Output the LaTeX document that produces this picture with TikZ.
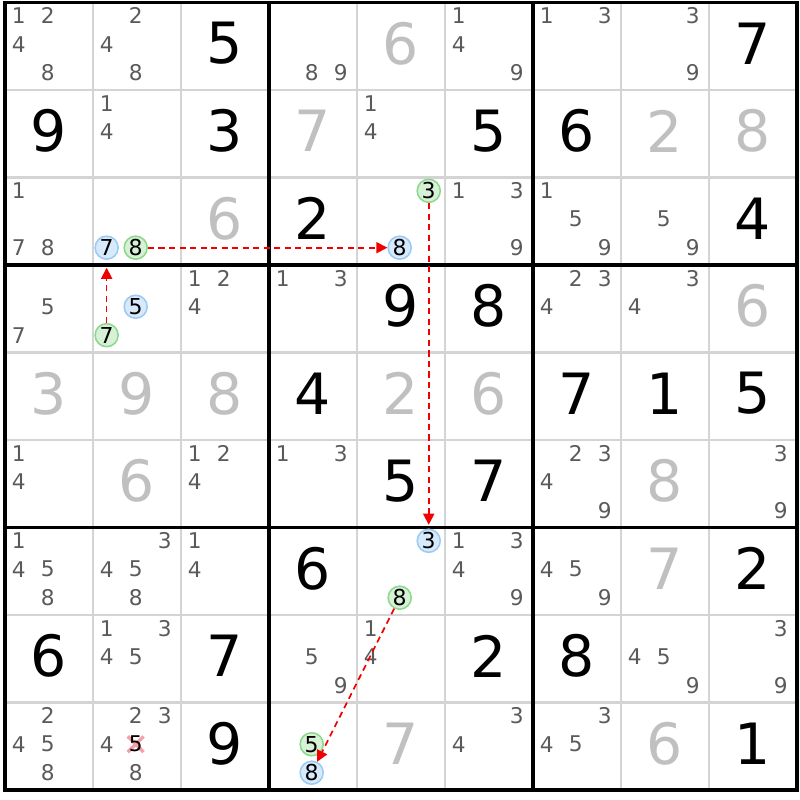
\documentclass[tikz,border=0pt]{standalone}
\usepackage{fontspec}
\setmainfont{DejaVu Sans}
\usetikzlibrary{arrows.meta}
\definecolor{candgray}{HTML}{5A5A5A}
\definecolor{givengray}{HTML}{C0C0C0}
\definecolor{gridgray}{HTML}{D4D4D4}
\definecolor{hlblue}{HTML}{9CCAF4}
\definecolor{hlgreen}{HTML}{8CD88C}
\definecolor{linkred}{HTML}{F00000}
\definecolor{elimred}{HTML}{F4A0A8}

\begin{document}
\begin{tikzpicture}[
    x=1cm, y=0.9943cm,
    cand/.style={text=candgray, inner sep=0pt, font=\fontsize{7}{7}\selectfont},
    solved/.style={inner sep=0pt, font=\fontsize{18.4}{18.4}\selectfont},
    given/.style={solved, text=givengray},
    hlmark/.style={circle, inner sep=0pt, minimum size=0.262cm, line width=0.5pt, font=\fontsize{7.1}{7.1}\selectfont},
    onblue/.style={hlmark, draw=hlblue, fill=hlblue!40},
    ongreen/.style={hlmark, draw=hlgreen, fill=hlgreen!35},
    link/.style={draw=linkred, line width=0.55pt, dash pattern=on 2pt off 1.4pt, -{Triangle[length=3.6pt, width=3.6pt]}}
]
    \useasboundingbox (-0.0568,0.0286) rectangle (9.034,-9.114);

    % Grid
    \foreach \i in {0,...,9} {
        \draw[gridgray, line width=0.65pt] (\i,0) -- (\i,-9);
        \draw[gridgray, line width=0.65pt] (0,-\i) -- (9,-\i);
    }
    \foreach \i in {0,3,6,9} {
        \draw[line width=1.1pt, line cap=rect] (\i,0) -- (\i,-9);
        \draw[line width=1.1pt, line cap=rect] (0,-\i) -- (9,-\i);
    }

    % Placed digits
    \foreach \r/\c/\v in {0/2/5, 0/8/7, 1/0/9, 1/2/3, 1/5/5, 1/6/6, 2/3/2, 2/8/4,
        3/4/9, 3/5/8, 4/3/4, 4/6/7, 4/7/1, 4/8/5, 5/4/5, 5/5/7, 6/3/6, 6/8/2,
        7/0/6, 7/2/7, 7/5/2, 7/6/8, 8/2/9, 8/8/1}
        \node[solved] (s\r\c) at (\c+0.49,-\r-0.47) {\v};

    % Givens
    \foreach \r/\c/\v in {0/4/6, 1/3/7, 1/7/2, 1/8/8, 2/2/6, 3/8/6, 4/0/3, 4/1/9,
        4/2/8, 4/4/2, 4/5/6, 5/1/6, 5/7/8, 6/7/7, 8/4/7, 8/7/6}
        \node[given] (g\r\c) at (\c+0.49,-\r-0.47) {\v};

    % Candidates
    \foreach \r/\c/\ds in {0/0/{1,2,4,8}, 0/1/{2,4,8}, 0/3/{8,9}, 0/5/{1,4,9}, 0/6/{1,3}, 0/7/{3,9},
        1/1/{1,4}, 1/4/{1,4},
        2/0/{1,7,8}, 2/5/{1,3,9}, 2/6/{1,5,9}, 2/7/{5,9},
        3/0/{5,7}, 3/2/{1,2,4}, 3/3/{1,3}, 3/6/{2,3,4}, 3/7/{3,4},
        5/0/{1,4}, 5/2/{1,2,4}, 5/3/{1,3}, 5/6/{2,3,4,9}, 5/8/{3,9},
        6/0/{1,4,5,8}, 6/1/{3,4,5,8}, 6/2/{1,4}, 6/5/{1,3,4,9}, 6/6/{4,5,9},
        7/1/{1,3,4,5}, 7/3/{5,9}, 7/4/{1,4}, 7/7/{4,5,9}, 7/8/{3,9},
        8/0/{2,4,5,8}, 8/1/{2,3,4,8}, 8/5/{3,4}, 8/6/{3,4,5}}
        \foreach \d in \ds {
            \pgfmathsetmacro{\px}{\c+0.155+0.33*mod(\d-1,3)}
            \pgfmathsetmacro{\py}{-\r-0.152-0.325*floor((\d-1)/3)}
            \node[cand] (n\r\c\d) at (\px,\py) {\d};
        }

    % Eliminated candidate
    \draw[elimred, line width=1.1pt] (1.395,-8.387) -- (1.575,-8.567);
    \draw[elimred, line width=1.1pt] (1.395,-8.567) -- (1.575,-8.387);
    \node[cand, text=black] (n815) at (1.485,-8.477) {5};

    % Chain
    \node[onblue] (r2c1n7) at (1.155,-2.802) {7};
    \node[ongreen] (r2c1n8) at (1.485,-2.802) {8};
    \node[ongreen] (r2c4n3) at (4.815,-2.152) {3};
    \node[onblue] (r2c4n8) at (4.485,-2.802) {8};
    \node[onblue] (r3c1n5) at (1.485,-3.477) {5};
    \node[ongreen] (r3c1n7) at (1.155,-3.802) {7};
    \node[onblue] (r6c4n3) at (4.815,-6.152) {3};
    \node[ongreen] (r6c4n8) at (4.485,-6.802) {8};
    \node[ongreen] (r8c3n5) at (3.485,-8.477) {5};
    \node[onblue] (r8c3n8) at (3.485,-8.802) {8};

    \draw[link, shorten >=2.5pt] (r3c1n7) -- (r2c1n7);
    \draw[link] (r2c1n8) -- (r2c4n8);
    \draw[link, shorten >=1.2pt] (r2c4n3) -- (r6c4n3);
    \draw[link] (r6c4n8) -- (r8c3n8);
\end{tikzpicture}
\end{document}
